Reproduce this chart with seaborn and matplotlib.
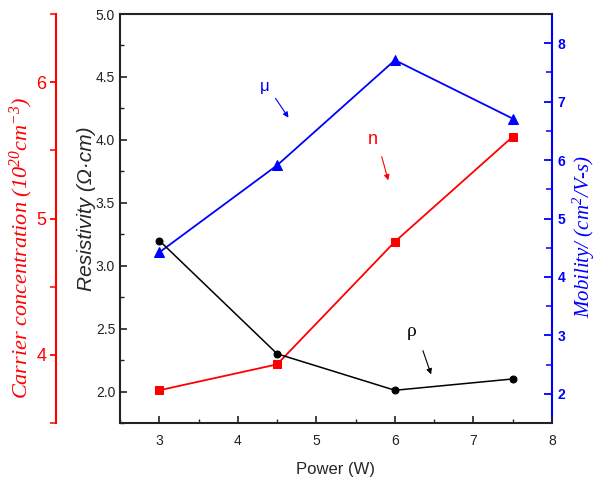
import matplotlib
matplotlib.use("Agg")
import matplotlib.pyplot as plt
import seaborn as sns
import pandas as pd
from matplotlib.ticker import MultipleLocator

power = [3.0, 4.5, 6.0, 7.5]
resistivity = [3.20, 2.30, 2.01, 2.10]
carrier = [3.74, 3.93, 4.83, 5.60]
mobility = [4.42, 5.91, 7.71, 6.71]

sns.set_style("white")
plt.rcParams['font.family'] = ['Liberation Sans', 'DejaVu Sans']
plt.rcParams['mathtext.fontset'] = 'custom'
plt.rcParams['mathtext.rm'] = 'Liberation Serif:italic'
plt.rcParams['mathtext.it'] = 'Liberation Serif:italic'

df = pd.DataFrame({"power": power, "res": resistivity, "n": carrier, "mu": mobility})

fig = plt.figure(figsize=(5.96, 4.84), dpi=100)
ax = fig.add_axes([120/596, 1-423/484, 432/596, 409/484])
ax_mu = ax.twinx()
ax_n = ax.twinx()

RED = "#ff0000"
BLUE = "#0000ff"

sns.lineplot(data=df, x="power", y="n", ax=ax_n, color=RED, marker="s",
             markersize=6, markeredgecolor=RED, linewidth=1.3)
sns.lineplot(data=df, x="power", y="mu", ax=ax_mu, color=BLUE, marker="^",
             markersize=7, markeredgecolor=BLUE, linewidth=1.3)
sns.lineplot(data=df, x="power", y="res", ax=ax, color="black", marker="o",
             markersize=5, markeredgecolor="black", linewidth=1.1, zorder=5)

# main axis
ax.set_xlim(2.5, 8)
ax.set_ylim(1.75, 5.0)
ax.xaxis.set_major_locator(MultipleLocator(1))
ax.xaxis.set_minor_locator(MultipleLocator(0.5))
ax.yaxis.set_major_locator(MultipleLocator(0.5))
ax.yaxis.set_minor_locator(MultipleLocator(0.25))
ax.set_yticks([2.0, 2.5, 3.0, 3.5, 4.0, 4.5, 5.0])
ax.set_yticklabels(["2.0", "2.5", "3.0", "3.5", "4.0", "4.5", "5.0"])
ax.tick_params(axis="both", which="major", direction="in", length=5, width=1.2,
               labelsize=10, colors="#222222")
ax.tick_params(axis="both", which="minor", direction="in", length=3, width=1.0,
               colors="#222222")
ax.tick_params(axis="x", which="both", bottom=True, top=False)
ax.tick_params(axis="y", which="both", left=True, right=False)
ax.tick_params(axis="x", pad=8)
for s in ["left", "bottom", "top"]:
    ax.spines[s].set_color("#222222")
    ax.spines[s].set_linewidth(1.5)
ax.spines["right"].set_visible(False)
ax.set_xlabel("Power (W)", fontsize=12, labelpad=10)
ax.set_ylabel("Resistivity (Ω·cm)", fontsize=15, style="italic", labelpad=2)
ax.yaxis.set_label_coords(-0.056, 0.525)

# mobility axis
ax_mu.set_ylim(1.5, 8.5)
ax_mu.yaxis.set_major_locator(MultipleLocator(1))
ax_mu.yaxis.set_minor_locator(MultipleLocator(0.5))
ax_mu.tick_params(axis="y", which="major", direction="in", length=6, width=1.3,
                  colors=BLUE, labelsize=10, pad=4)
ax_mu.tick_params(axis="y", which="minor", direction="in", length=4, width=1.1,
                  colors=BLUE)
for lab in ax_mu.get_yticklabels():
    lab.set_fontweight("bold")
for s in ["left", "top", "bottom"]:
    ax_mu.spines[s].set_visible(False)
ax_mu.spines["right"].set_color(BLUE)
ax_mu.spines["right"].set_linewidth(1.5)
ax_mu.set_ylabel("Mobility/ (cm$^{2}$/V-s)", color=BLUE, fontsize=15,
                 family="Liberation Serif", style="italic")
ax_mu.yaxis.set_label_coords(1.043, 0.457)

# carrier axis
ax_n.set_ylim(3.5, 6.5)
ax_n.yaxis.set_major_locator(MultipleLocator(1))
ax_n.yaxis.set_minor_locator(MultipleLocator(0.5))
ax_n.yaxis.set_ticks_position("left")
ax_n.yaxis.set_label_position("left")
for s in ["right", "top", "bottom"]:
    ax_n.spines[s].set_visible(False)
ax_n.spines["left"].set_visible(True)
ax_n.spines["left"].set_position(("axes", -0.148))
ax_n.spines["left"].set_color(RED)
ax_n.spines["left"].set_linewidth(1.5)
ax_n.tick_params(axis="y", which="major", direction="out", length=4, width=1.3,
                 colors=RED, labelsize=13, pad=3)
ax_n.tick_params(axis="y", which="minor", direction="out", length=4, width=1.1,
                 colors=RED)
ax_n.set_ylabel("Carrier concentration (10$^{20}$cm$^{-3}$)", color=RED,
                fontsize=16, family="Liberation Serif", style="italic")
ax_n.yaxis.set_label_coords(-0.197, 0.427)
ax.set_zorder(ax_n.get_zorder() + 1)
ax.patch.set_visible(False)
ax_n.patch.set_visible(False)
ax_mu.patch.set_visible(False)

# annotations
ax.annotate("", xy=(290/596, 1-120/484), xytext=(274/596, 1-96/484),
            xycoords="figure fraction", textcoords="figure fraction",
            arrowprops=dict(arrowstyle="-|>", color=BLUE, lw=0.8,
                            mutation_scale=8))
fig.text(265/596, 1-87/484, "μ", color=BLUE, fontsize=12, ha="center", va="center")
ax.annotate("", xy=(389/596, 1-183/484), xytext=(381/596, 1-154/484),
            xycoords="figure fraction", textcoords="figure fraction",
            arrowprops=dict(arrowstyle="-|>", color=RED, lw=0.8,
                            mutation_scale=8))
fig.text(373/596, 1-140/484, "n", color=RED, fontsize=13, ha="center", va="center")
ax.annotate("", xy=(432/596, 1-377/484), xytext=(422/596, 1-348/484),
            xycoords="figure fraction", textcoords="figure fraction",
            arrowprops=dict(arrowstyle="-|>", color="black", lw=0.8,
                            mutation_scale=8))
fig.text(412/596, 1-332/484, "ρ", color="black", fontsize=14, ha="center",
         va="center", family="Liberation Serif")

fig.savefig("out.png", dpi=100)
